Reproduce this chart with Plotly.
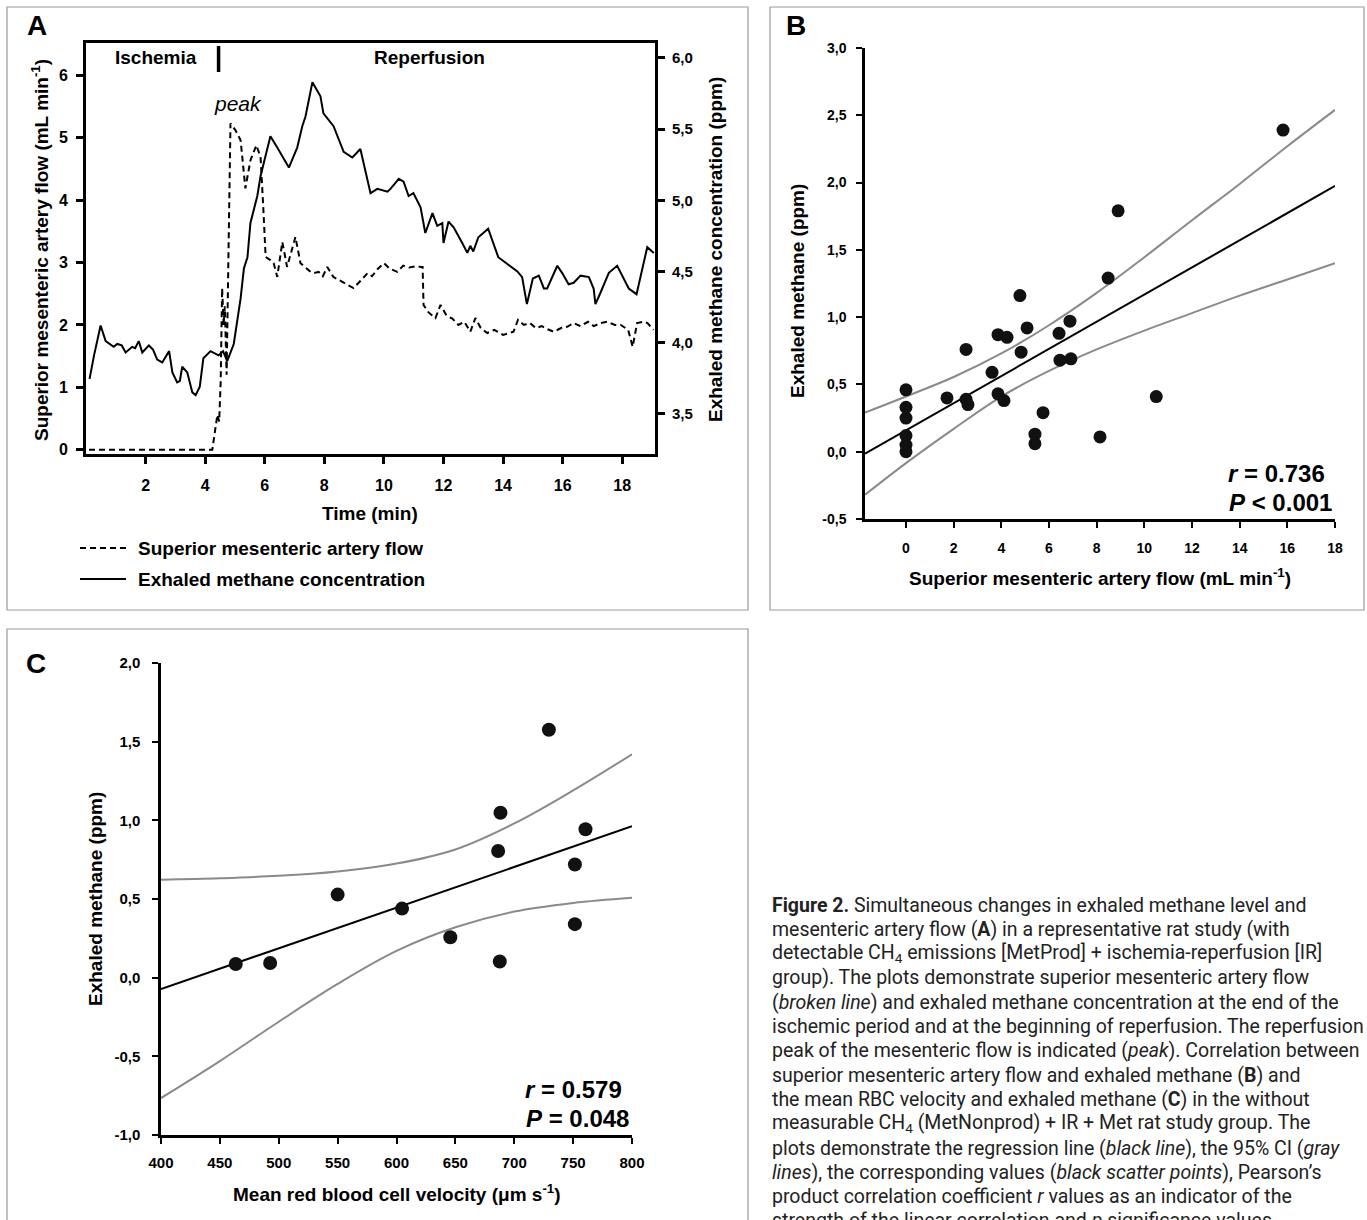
import plotly.graph_objects as go

W, H = 1367, 1220

# ---------------- Panel A data ----------------
flow_time = [0.1, 4.24, 4.41, 4.47, 4.52, 4.57, 4.62, 4.66, 4.72, 4.85, 5.02, 5.19, 5.35, 5.52,
             5.72, 5.86, 5.95, 6.03, 6.19, 6.30, 6.42, 6.59, 6.75, 6.90, 7.03, 7.20, 7.40, 7.54,
             7.65, 7.81, 7.95, 8.10, 8.30, 8.50, 8.75, 8.98, 9.20, 9.45, 9.60, 9.80, 10.00,
             10.20, 10.45, 10.65, 10.85, 11.05, 11.25, 11.30, 11.33, 11.50, 11.73, 11.90,
             12.10, 12.30, 12.50, 12.70, 12.90, 13.07, 13.25, 13.47, 13.70, 14.00, 14.35,
             14.50, 14.70, 14.90, 15.10, 15.30, 15.50, 15.70, 15.95, 16.15, 16.37, 16.60,
             16.85, 17.05, 17.27, 17.50, 17.75, 17.95, 18.20, 18.35, 18.50, 18.70, 18.85, 19.05]
flow_val = [0.0, 0.0, 0.56, 0.45, 1.07, 2.59, 2.0, 2.3, 1.2, 5.23, 5.12, 4.96, 4.19, 4.64,
            4.88, 4.69, 3.89, 3.09, 3.04, 2.99, 2.77, 3.33, 2.93, 3.20, 3.41, 2.99, 2.90, 2.85,
            2.83, 2.85, 2.78, 2.93, 2.77, 2.72, 2.66, 2.59, 2.70, 2.83, 2.78, 2.90, 2.99,
            2.90, 2.85, 2.95, 2.92, 2.94, 2.93, 2.93, 2.32, 2.20, 2.11, 2.32,
            2.15, 2.10, 2.00, 2.05, 1.89, 2.11, 1.95, 1.87, 1.92, 1.84, 1.89,
            2.08, 2.00, 2.03, 1.95, 1.98, 1.93, 1.89, 1.95, 1.97, 2.03, 1.98,
            2.05, 1.98, 2.03, 2.05, 2.00, 2.00, 1.92, 1.65, 2.03, 2.05, 2.03, 1.92]

ch4_time = [0.12, 0.27, 0.49, 0.66, 0.93, 1.05, 1.20, 1.33, 1.55, 1.65, 1.77, 1.89, 2.11, 2.25,
            2.39, 2.56, 2.79, 2.90, 3.06, 3.15, 3.23, 3.40, 3.57, 3.68, 3.82, 3.94, 4.18, 4.45,
            4.60, 4.74, 4.96, 5.19, 5.30, 5.42, 5.52, 5.75, 5.86, 6.19, 6.42, 6.81, 7.09, 7.26,
            7.37, 7.60, 7.87, 7.97, 8.31, 8.65, 8.94, 9.21, 9.55, 9.78, 10.12, 10.22, 10.50,
            10.66, 10.83, 10.99, 11.23, 11.39, 11.63, 11.79, 11.96, 12.00, 12.17, 12.34, 12.63,
            12.80, 12.90, 13.00, 13.17, 13.50, 13.84, 14.24, 14.48, 14.64, 14.80, 15.00, 15.20,
            15.37, 15.48, 15.82, 15.98, 16.20, 16.37, 16.60, 16.88, 17.04, 17.10, 17.27, 17.55,
            17.83, 18.22, 18.48, 18.84, 19.06]
ch4_val = [3.745, 3.91, 4.12, 4.01, 3.97, 3.99, 3.98, 3.93, 3.97, 3.96, 4.01, 3.93, 3.98, 3.95,
           3.88, 3.86, 3.94, 3.79, 3.72, 3.73, 3.83, 3.79, 3.65, 3.63, 3.69, 3.89, 3.94, 3.91,
           3.94, 3.87, 3.99, 4.31, 4.52, 4.60, 4.84, 5.03, 5.17, 5.45, 5.37, 5.23, 5.37, 5.52,
           5.59, 5.83, 5.73, 5.61, 5.52, 5.34, 5.30, 5.36, 5.05, 5.08, 5.06, 5.08, 5.15,
           5.13, 5.03, 5.05, 4.95, 4.77, 4.91, 4.82, 4.84, 4.70, 4.85, 4.81, 4.70,
           4.63, 4.68, 4.64, 4.74, 4.80, 4.60, 4.54, 4.50, 4.46, 4.27, 4.45, 4.47,
           4.38, 4.38, 4.54, 4.49, 4.41, 4.42, 4.47, 4.46, 4.38, 4.27, 4.35, 4.49,
           4.54, 4.38, 4.34, 4.67, 4.63]

a_x_ticks = [2, 4, 6, 8, 10, 12, 14, 16, 18]
a_yl_ticks = [0, 1, 2, 3, 4, 5, 6]
a_yr_ticks = [3.5, 4.0, 4.5, 5.0, 5.5, 6.0]
a_yr_text = ["3,5", "4,0", "4,5", "5,0", "5,5", "6,0"]
a_phase_boundary = 4.45

# ---------------- Panel B data ----------------
b_flow = [15.82, 8.9, 8.48, 4.78, 6.88, 5.08, 3.86, 4.24, 6.42, 2.52, 4.83, 6.46, 6.92, 3.61,
          0.0, 1.72, 3.86, 4.11, 2.52, 2.6, 10.5, 5.75, 0.0, 0.0, 5.41, 8.14, 0.0, 5.41, 0.0, 0.0]
b_ch4 = [2.39, 1.79, 1.29, 1.16, 0.97, 0.92, 0.87, 0.85, 0.88, 0.76, 0.74, 0.68, 0.69, 0.59,
         0.46, 0.40, 0.43, 0.38, 0.39, 0.35, 0.41, 0.29, 0.33, 0.25, 0.13, 0.11, 0.12, 0.06, 0.05, 0.0]
b_fit_x = [-1.72, 18.0]
b_fit_y = [-0.015, 1.975]
b_ci_x = [-1.72, 0, 2, 4, 6, 8, 10, 12, 14, 16, 18]
b_ci_hi = [0.29, 0.41, 0.555, 0.73, 0.94, 1.18, 1.445, 1.72, 1.99, 2.27, 2.54]
b_ci_lo = [-0.32, -0.085, 0.17, 0.41, 0.60, 0.76, 0.90, 1.03, 1.16, 1.28, 1.40]
b_x_ticks = [0, 2, 4, 6, 8, 10, 12, 14, 16, 18]
b_y_ticks = [-0.5, 0.0, 0.5, 1.0, 1.5, 2.0, 2.5, 3.0]
b_y_text = ["-0,5", "0,0", "0,5", "1,0", "1,5", "2,0", "2,5", "3,0"]

# ---------------- Panel C data ----------------
c_vel = [463.5, 492.7, 550.0, 604.7, 645.7, 686.3, 688.3, 687.7, 729.4, 751.5, 751.5, 760.5]
c_ch4 = [0.087, 0.093, 0.528, 0.439, 0.257, 0.805, 1.048, 0.103, 1.576, 0.719, 0.34, 0.943]
c_fit_x = [400, 800]
c_fit_y = [-0.072, 0.962]
c_ci_x = [400, 450, 500, 550, 600, 650, 700, 750, 800]
c_ci_hi = [0.623, 0.632, 0.647, 0.675, 0.725, 0.815, 0.98, 1.19, 1.42]
c_ci_lo = [-0.765, -0.53, -0.28, -0.04, 0.17, 0.32, 0.42, 0.475, 0.508]
c_x_ticks = [400, 450, 500, 550, 600, 650, 700, 750, 800]
c_y_ticks = [-1.0, -0.5, 0.0, 0.5, 1.0, 1.5, 2.0]
c_y_text = ["-1,0", "-0,5", "0,0", "0,5", "1,0", "1,5", "2,0"]

caption_lines = [
    "<b>Figure 2.</b> Simultaneous changes in exhaled methane level and",
    "mesenteric artery flow (<b>A</b>) in a representative rat study (with",
    "detectable CH<sub>4</sub> emissions [MetProd] + ischemia-reperfusion [IR]",
    "group). The plots demonstrate superior mesenteric artery flow",
    "(<i>broken line</i>) and exhaled methane concentration at the end of the",
    "ischemic period and at the beginning of reperfusion. The reperfusion",
    "peak of the mesenteric flow is indicated (<i>peak</i>). Correlation between",
    "superior mesenteric artery flow and exhaled methane (<b>B</b>) and",
    "the mean RBC velocity and exhaled methane (<b>C</b>) in the without",
    "measurable CH<sub>4</sub> (MetNonprod) + IR + Met rat study group. The",
    "plots demonstrate the regression line (<i>black line</i>), the 95% CI (<i>gray</i>",
    "<i>lines</i>), the corresponding values (<i>black scatter points</i>), Pearson\u2019s",
    "product correlation coefficient <i>r</i> values as an indicator of the",
    "strength of the linear correlation and <i>p</i> significance values.",
]


def px(p):
    return p / W


def py(p):
    return 1 - p / H


FONT = "Liberation Sans, Arial, Helvetica, sans-serif"
GRAY = "#8a8a8a"

fig = go.Figure()

# Panel A traces
fig.add_trace(go.Scatter(x=flow_time, y=flow_val, mode="lines",
                         line=dict(color="black", width=2, dash="6px,4px"),
                         xaxis="x", yaxis="y", hoverinfo="skip"))
fig.add_trace(go.Scatter(x=ch4_time, y=ch4_val, mode="lines",
                         line=dict(color="black", width=2),
                         xaxis="x", yaxis="y2", hoverinfo="skip"))

# Panel B traces
fig.add_trace(go.Scatter(x=b_ci_x, y=b_ci_hi, mode="lines", line=dict(color=GRAY, width=2, shape="spline"),
                         xaxis="x2", yaxis="y3"))
fig.add_trace(go.Scatter(x=b_ci_x, y=b_ci_lo, mode="lines", line=dict(color=GRAY, width=2, shape="spline"),
                         xaxis="x2", yaxis="y3"))
fig.add_trace(go.Scatter(x=b_fit_x, y=b_fit_y, mode="lines", line=dict(color="black", width=2),
                         xaxis="x2", yaxis="y3"))
fig.add_trace(go.Scatter(x=b_flow, y=b_ch4, mode="markers",
                         marker=dict(color="#111111", size=13, line=dict(width=0)),
                         xaxis="x2", yaxis="y3", cliponaxis=False))

# Panel C traces
fig.add_trace(go.Scatter(x=c_ci_x, y=c_ci_hi, mode="lines", line=dict(color=GRAY, width=2, shape="spline"),
                         xaxis="x3", yaxis="y4"))
fig.add_trace(go.Scatter(x=c_ci_x, y=c_ci_lo, mode="lines", line=dict(color=GRAY, width=2, shape="spline"),
                         xaxis="x3", yaxis="y4"))
fig.add_trace(go.Scatter(x=c_fit_x, y=c_fit_y, mode="lines", line=dict(color="black", width=2),
                         xaxis="x3", yaxis="y4"))
fig.add_trace(go.Scatter(x=c_vel, y=c_ch4, mode="markers",
                         marker=dict(color="#111111", size=14, line=dict(width=0)),
                         xaxis="x3", yaxis="y4", cliponaxis=False))

common = dict(showgrid=False, zeroline=False, showline=True, linecolor="black",
              ticks="outside", tickcolor="black", automargin=False)

fig.update_layout(
    width=W, height=H, margin=dict(l=0, r=0, t=0, b=0, pad=0, autoexpand=False),
    paper_bgcolor="white", plot_bgcolor="rgba(0,0,0,0)", showlegend=False,
    font=dict(family=FONT, color="black"),
    modebar=dict(remove=["zoom", "pan", "select", "lasso", "zoomIn", "zoomOut", "autoScale",
                         "resetScale", "toImage"]),
    xaxis=dict(domain=[px(86), px(655)], range=[0, 19.1], anchor="y", mirror=True,
               tickvals=a_x_ticks, linewidth=3, ticklen=7, tickwidth=2.5,
               tickfont=dict(size=16, weight="bold"), ticklabelstandoff=8, **common),
    yaxis=dict(domain=[py(454), py(43)], range=[-0.07, 6.52], anchor="x",
               tickvals=a_yl_ticks, linewidth=3, ticklen=7, tickwidth=2.5,
               tickfont=dict(size=16, weight="bold"), ticklabelstandoff=5, **common),
    yaxis2=dict(overlaying="y", side="right", anchor="x", range=[3.217, 6.105],
                tickvals=a_yr_ticks, ticktext=a_yr_text, linewidth=3, ticklen=7, tickwidth=2.5,
                tickfont=dict(size=15, weight="bold"), ticklabelstandoff=4, **common),
    xaxis2=dict(domain=[px(865), px(1335)], range=[-1.72, 18], anchor="y3",
                tickvals=b_x_ticks, linewidth=2.5, ticklen=6, tickwidth=2,
                tickfont=dict(size=14, weight="bold"), ticklabelstandoff=8, **common),
    yaxis3=dict(domain=[py(519), py(48)], range=[-0.5, 3.0], anchor="x2",
                tickvals=b_y_ticks, ticktext=b_y_text, linewidth=2.5, ticklen=6, tickwidth=2,
                tickfont=dict(size=14, weight="bold"), ticklabelstandoff=7, **common),
    xaxis3=dict(domain=[px(161), px(632)], range=[400, 800], anchor="y4",
                tickvals=c_x_ticks, linewidth=2.5, ticklen=6, tickwidth=2,
                tickfont=dict(size=15, weight="bold"), ticklabelstandoff=6, **common),
    yaxis4=dict(domain=[py(1135), py(663)], range=[-1.0, 2.0], anchor="x3",
                tickvals=c_y_ticks, ticktext=c_y_text, linewidth=2.5, ticklen=6, tickwidth=2,
                tickfont=dict(size=15, weight="bold"), ticklabelstandoff=9, **common),
)

shapes = [
    dict(type="rect", xref="paper", yref="paper", x0=px(7), x1=px(748), y0=py(610), y1=py(7),
         line=dict(color="#9a9a9a", width=1.2)),
    dict(type="rect", xref="paper", yref="paper", x0=px(770), x1=px(1364), y0=py(610), y1=py(7),
         line=dict(color="#9a9a9a", width=1.2)),
    dict(type="rect", xref="paper", yref="paper", x0=px(7), x1=px(748), y0=py(1230), y1=py(629),
         line=dict(color="#9a9a9a", width=1.2)),
    dict(type="line", xref="x", yref="paper", x0=a_phase_boundary, x1=a_phase_boundary,
         y0=py(72), y1=py(46), line=dict(color="black", width=3.5)),
    dict(type="line", xref="paper", yref="paper", x0=px(80), x1=px(126), y0=py(548), y1=py(548),
         line=dict(color="black", width=2, dash="6px,4px")),
    dict(type="line", xref="paper", yref="paper", x0=px(80), x1=px(126), y0=py(579), y1=py(579),
         line=dict(color="black", width=2)),
]
fig.update_layout(shapes=shapes)


def ann(text, x, y, size, xanchor="center", yanchor="middle", angle=0, weight="bold",
        family=FONT, color="black"):
    fig.add_annotation(text=text, x=px(x), y=py(y), xref="paper", yref="paper",
                       xanchor=xanchor, yanchor=yanchor, showarrow=False, textangle=angle,
                       font=dict(size=size, family=family, color=color, weight=weight))


# panel letters
ann("A", 37, 26, 28)
ann("B", 796, 26, 28)
ann("C", 36, 663, 28)

# Panel A texts
ann("Ischemia", 156, 58, 19)
ann("Reperfusion", 429, 58, 19)
ann("<i>peak</i>", 238, 103, 21, weight="normal")
ann("Time (min)", 370, 513, 19)
ann("Superior mesenteric artery flow (mL min<sup>-1</sup>)", 40, 250, 19, angle=-90)
ann("Exhaled methane concentration (ppm)", 715, 250, 19, angle=-90)
ann("Superior mesenteric artery flow", 136, 548, 19, xanchor="left")
ann("Exhaled methane concentration", 136, 579, 19, xanchor="left")

# Panel B texts
ann("Exhaled methane (ppm)", 797, 291, 19, angle=-90)
ann("Superior mesenteric artery flow (mL min<sup>-1</sup>)", 1100, 577, 19)
ann("<i>r</i> = 0.736", 1327, 473, 24, xanchor="right")
ann("<i>P</i> < 0.001", 1334, 502, 24, xanchor="right")

# Panel C texts
ann("Exhaled methane (ppm)", 95, 899, 19, angle=-90)
ann("Mean red blood cell velocity (\u03bcm s<sup>-1</sup>)", 397, 1193, 19)
ann("<i>r</i> = 0.579", 624, 1089, 24, xanchor="right")
ann("<i>P</i> = 0.048", 631, 1118, 24, xanchor="right")

# Caption
for i, line in enumerate(caption_lines):
    ann(line, 770, 905 + i * 24.3, 19.5, xanchor="left", weight="normal",
        family="Roboto, Liberation Sans, sans-serif", color="#222222")

fig.write_html("out.html", config={"displayModeBar": False},
               post_script="document.body.style.margin='0';document.body.style.overflow='hidden';")
